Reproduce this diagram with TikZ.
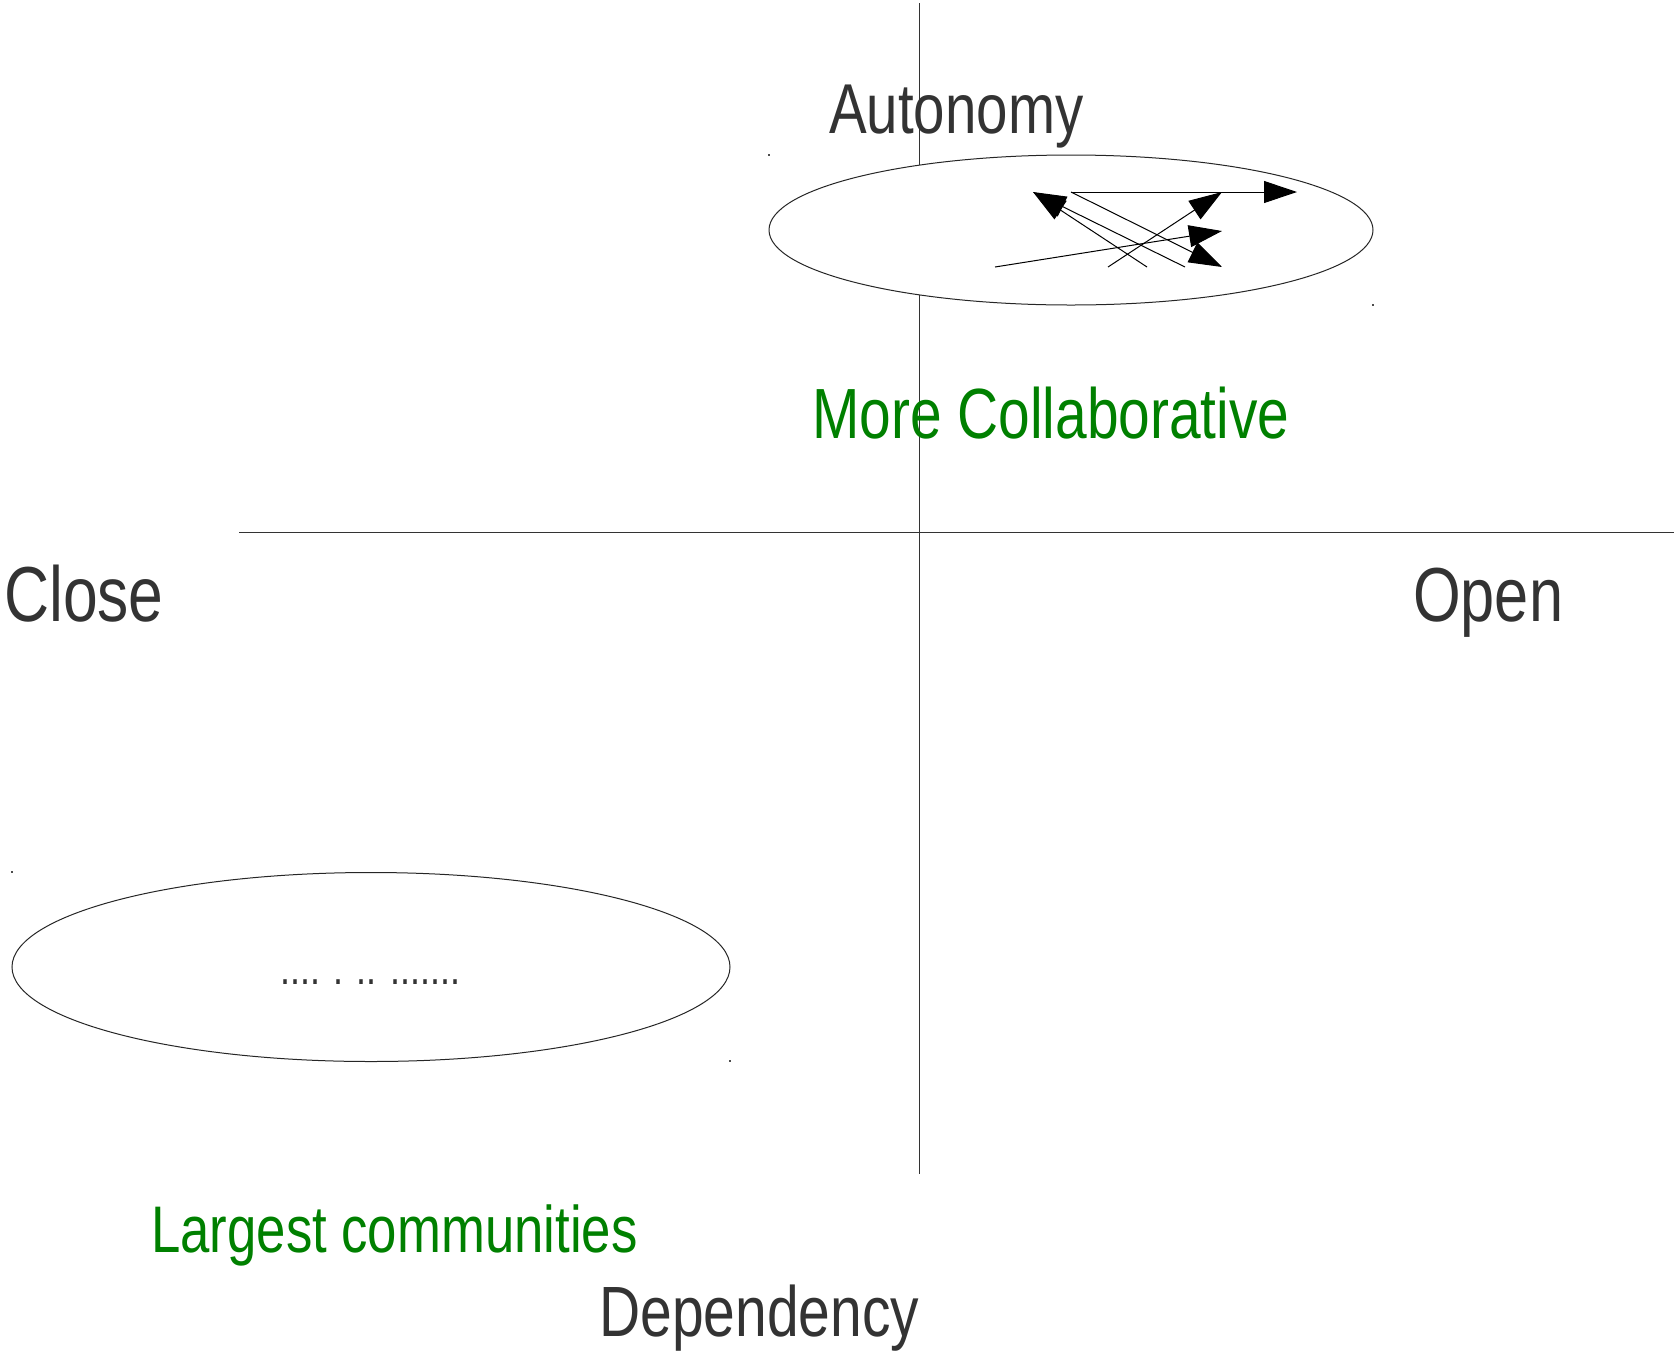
\documentclass[tikz,border=0pt]{standalone}
\usepackage{fontspec}
\setmainfont{Liberation Sans}
\usetikzlibrary{arrows.meta,shapes.geometric}
\definecolor{txtgrey}{HTML}{333333}
\definecolor{txtgreen}{HTML}{008000}
\tikzset{
  axis/.style={line width=1pt, draw=black!80},
  blob/.style={ellipse, draw=black!85, line width=1pt, fill=white, inner sep=0pt},
  link/.style={line width=1pt, -{Triangle[length=33pt,width=22pt]}},
  lbl/.style={anchor=base west, inner sep=0pt, text=txtgrey},
  glbl/.style={anchor=base west, inner sep=0pt, text=txtgreen},
  cornermark/.style={fill=black!70}
}
\newcommand{\bigtxt}[2]{\scalebox{0.8}[1]{\fontsize{#1}{#1}\selectfont #2}}
\begin{document}
\begin{tikzpicture}[x=1pt,y=-1pt]
\useasboundingbox (0,0) rectangle (1674,1350);
% axes
\coordinate (vtop) at (919,3);
\coordinate (vbot) at (919,1174);
\coordinate (hl) at (239,532);
\coordinate (hr) at (1674,532);
\draw[axis] (vtop) -- (vbot);
\draw[axis] (hl) -- (hr);
% ellipses
\node[blob, minimum width=604pt, minimum height=150pt] (e1) at (1071,230) {};
\node[blob, minimum width=718pt, minimum height=189pt] (e2) at (371,967) {};
% corner marks
\fill[cornermark] (768,154) rectangle (770,156);
\fill[cornermark] (1372,304) rectangle (1374,306);
\fill[cornermark] (11,871) rectangle (13,873);
\fill[cornermark] (729,1060) rectangle (731,1062);
% arrow endpoints
\coordinate (a0) at (1071,192);
\coordinate (t1) at (1297,192);
\coordinate (t2) at (1222,267);
\coordinate (s3) at (995,267);
\coordinate (t3) at (1222,231);
\coordinate (s4) at (1108,267);
\coordinate (t4) at (1222,192);
\coordinate (s5) at (1147,267);
\coordinate (s6) at (1185,267);
\coordinate (t5) at (1033,192);
\draw[link] (a0) -- (t1);
\draw[link] (a0) -- (t2);
\draw[link] (s3) -- (t3);
\draw[link] (s4) -- (t4);
\draw[link] (s5) -- (t5);
\draw[link] (s6) -- (t5);
% texts
\node[lbl] (auto) at (829,133) {\bigtxt{70.6pt}{Autonomy}};
\node[glbl] (collab) at (812,438) {\bigtxt{71.1pt}{More Collaborative}};
\node[lbl] (close) at (4,621) {\bigtxt{78pt}{Close}};
\node[lbl] (open) at (1413,621) {\bigtxt{76.6pt}{Open}};
\node[glbl] (largest) at (151,1252) {\bigtxt{65.9pt}{Largest communities}};
\node[lbl] (dep) at (599,1336) {\bigtxt{71.2pt}{Dependency}};
\node[lbl] (dots) at (280,984) {\bigtxt{45pt}{.... . .. .......}};
\end{tikzpicture}
\end{document}
